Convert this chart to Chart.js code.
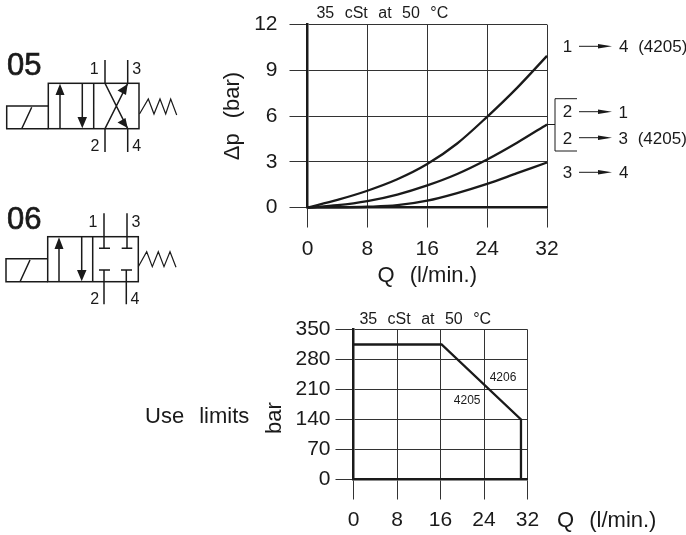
<!DOCTYPE html>
<html>
<head>
<meta charset="utf-8">
<script src="https://cdn.jsdelivr.net/npm/chart.js@4/dist/chart.umd.min.js"></script>
<style>
html,body{margin:0;padding:0;background:#fff;width:686px;height:535px;overflow:hidden}
canvas{position:absolute;display:block}
svg{position:absolute;left:0;top:0;pointer-events:none}
svg text{font-family:"Liberation Sans";fill:#1a1a1a;dominant-baseline:central}
</style>
</head>
<body>
<canvas id="drop" width="466" height="290" style="left:220px;top:0;width:466px;height:290px"></canvas>
<canvas id="limits" width="466" height="235" style="left:220px;top:300px;width:466px;height:235px"></canvas>

<svg width="686" height="535" viewBox="0 0 686 535" fill="none" stroke="#1a1a1a" stroke-width="1.5">
  <!-- 05 symbol -->
  <text x="7" y="64" font-size="31" stroke="#1a1a1a" stroke-width="0.7">05</text>
  <rect x="48.3" y="83.3" width="90.7" height="45.4"/>
  <path d="M48.3 106H6.7V128.7H48.3M21.7 128.7L31.7 107.3M93.7 83.3V128.7M60 128.7V92M82.3 83.3V120M105 60V83.3L127.7 128.7V152M127.7 60V83.3L105 128.7V152"/>
  <path d="M139.5 114L148.3 99L154 114L160 99L165.7 114L170.7 99L176.7 115" stroke-width="1.2"/>
  <g fill="#1a1a1a" stroke="none">
    <path d="M60 83.8L64.5 95H55.5ZM82.3 128.2L77.5 117H87ZM127.7 84L126 95L117.5 90.5ZM127.7 128L117.5 122.5L125.5 118Z"/>
    <text x="94.3" y="68.5" font-size="16" text-anchor="middle">1</text>
    <text x="136.7" y="68.5" font-size="16" text-anchor="middle">3</text>
    <text x="95" y="145" font-size="16" text-anchor="middle">2</text>
    <text x="136.7" y="145" font-size="16" text-anchor="middle">4</text>
  </g>
  <!-- 06 symbol -->
  <text x="7" y="218" font-size="31" stroke="#1a1a1a" stroke-width="0.7">06</text>
  <rect x="47.7" y="236.7" width="90.6" height="45"/>
  <path d="M47.7 258.7H6V281.7H47.7M20 281.7L30 260M92.7 236.7V281.7M59 281.7V245M81.7 236.7V273M104 213.3V248.3M99 248.3H110M127 213.3V248.3M121.7 248.3H132.3M104 304.3V270M99 270H110M126.3 304.3V270M121 270H132"/>
  <path d="M138.3 266.7L146.7 251.7L152.3 266.7L158.3 251.7L164 266.7L170 251.7L176 267.3" stroke-width="1.2"/>
  <g fill="#1a1a1a" stroke="none">
    <path d="M59 237.2L63.5 249H54.5ZM81.7 281.2L77 270H86.5Z"/>
    <text x="93" y="221.7" font-size="16" text-anchor="middle">1</text>
    <text x="136" y="221.7" font-size="16" text-anchor="middle">3</text>
    <text x="94.7" y="298.3" font-size="16" text-anchor="middle">2</text>
    <text x="135" y="298.3" font-size="16" text-anchor="middle">4</text>
  </g>
  <!-- curve legend -->
  <path d="M579 46.3H600M579 111.7H600M579 137.7H600M579 172.3H600" stroke-width="1"/>
  <path d="M577 98.7H555V151H577M547 124.5H555" stroke-width="1"/>
  <g fill="#1a1a1a" stroke="none">
    <path d="M598 44L612 46.3L598 48.6ZM598 109.4L612 111.7L598 114ZM598 135.4L612 137.7L598 140ZM598 170L612 172.3L598 174.6Z"/>
    <g font-size="17" style="word-spacing:5px">
      <text x="567.5" y="46" text-anchor="middle">1</text>
      <text x="619" y="46.5">4 (4205)</text>
      <text x="567.5" y="111.5" text-anchor="middle">2</text>
      <text x="618.5" y="112">1</text>
      <text x="567.5" y="138" text-anchor="middle">2</text>
      <text x="618.5" y="138">3 (4205)</text>
      <text x="567.5" y="172.5" text-anchor="middle">3</text>
      <text x="619" y="172.5">4</text>
    </g>
    <!-- lower chart captions -->
    <text x="145" y="415" font-size="22" style="word-spacing:9px">Use limits</text>
    <text x="273" y="418" font-size="22" text-anchor="middle" transform="rotate(-90 273 418)">bar</text>
    <text x="557" y="519" font-size="22" style="word-spacing:9px">Q (l/min.)</text>
  </g>
</svg>

<script>
// ---- Pressure drop chart ----
const flowTicks = [0, 4, 8, 12, 16, 20, 24, 28, 32];
const drop14 = [0, 0.5, 1.1, 1.85, 2.85, 4.2, 5.95, 7.85, 9.95];
const drop21 = [0, 0.15, 0.42, 0.85, 1.45, 2.2, 3.15, 4.25, 5.45];
const drop34 = [0, 0.01, 0.05, 0.15, 0.45, 0.95, 1.55, 2.25, 2.95];
const dropTitle = "\u0394p (bar)";
const flowTitle = "Q (l/min.)";
const viscosity = "35 cSt at 50 \u00b0C";

// ---- Use limits chart ----
const limitQ = [0, 16.2, 30.8, 30.8];
const limitBar = [315, 315, 140, 0];
const limitNotes = [
  {text: viscosity, q: 13.2, p: 374, size: 16, gap: 6},
  {text: "4206", q: 27.5, p: 237, size: 12, gap: 0},
  {text: "4205", q: 20.9, p: 185, size: 12, gap: 0}
];
const dropNotes = [
  {text: viscosity, q: 10, p: 12.72, size: 16, gap: 6}
];

const ink = "#1a1a1a";
const gridInk = "#333333";
const face = "Liberation Sans";

const spacing = {
  id: "spacing",
  beforeDraw(chart) { chart.ctx.wordSpacing = "9px"; }
};
const notes = {
  id: "notes",
  afterDraw(chart, args, opts) {
    const c = chart.ctx, xs = chart.scales.x, ys = chart.scales.y;
    c.save();
    c.fillStyle = ink;
    c.textAlign = "center";
    c.textBaseline = "middle";
    opts.items.forEach(n => {
      c.wordSpacing = n.gap + "px";
      c.font = n.size + "px '" + face + "'";
      c.fillText(n.text, xs.getPixelForValue(n.q), ys.getPixelForValue(n.p));
    });
    c.restore();
  }
};

function axisOptions(o) {
  return {
    x: {
      type: "linear", min: 0, max: 32,
      afterFit: s => { s.height = o.xHeight; },
      grid: {color: gridInk, lineWidth: 1, tickLength: 20, tickColor: gridInk},
      border: {color: ink, width: 2.5},
      ticks: {stepSize: 8, color: ink, padding: o.xPad, maxRotation: 0, font: {family: face, size: 21}},
      title: o.xTitle ? {display: true, text: o.xTitle, color: ink, padding: 1, font: {family: face, size: 22}} : {display: false}
    },
    y: {
      type: "linear", min: 0, max: o.yMax,
      afterFit: s => { s.width = o.yWidth; },
      grid: {color: gridInk, lineWidth: 1, tickLength: 18, tickColor: gridInk},
      border: {color: ink, width: 2.5},
      ticks: {stepSize: o.yStep, color: ink, padding: o.yPad, font: {family: face, size: 21}},
      title: o.yTitle ? {display: true, text: o.yTitle, color: ink, padding: 0, font: {family: face, size: 22}} : {display: false}
    }
  };
}

function lineSet(label, xs, ys, tension) {
  return {
    label,
    data: xs.map((q, i) => ({x: q, y: ys[i]})),
    borderColor: ink, borderWidth: 2.3, pointRadius: 0, showLine: true,
    tension: tension, cubicInterpolationMode: tension ? "monotone" : "default", clip: false, fill: false
  };
}

new Chart(document.getElementById("drop"), {
  type: "scatter",
  data: {datasets: [
    lineSet("1-4", flowTicks, drop14, 0.4),
    lineSet("2-1", flowTicks, drop21, 0.4),
    lineSet("3-4", flowTicks, drop34, 0.4)
  ]},
  options: {
    responsive: false, animation: false,
    layout: {padding: {left: 0, top: 24, right: 139, bottom: 0}},
    plugins: {legend: {display: false}, tooltip: {enabled: false}, notes: {items: dropNotes}},
    scales: axisOptions({xHeight: 82.5, yWidth: 87.5, yMax: 12, yStep: 3, xPad: 9, yPad: 12, xTitle: flowTitle, yTitle: dropTitle})
  },
  plugins: [spacing, notes]
});

new Chart(document.getElementById("limits"), {
  type: "scatter",
  data: {datasets: [lineSet("limit", limitQ, limitBar, 0)]},
  options: {
    responsive: false, animation: false,
    layout: {padding: {left: 0, top: 29.5, right: 158.5, bottom: 0}},
    plugins: {legend: {display: false}, tooltip: {enabled: false}, notes: {items: limitNotes}},
    scales: axisOptions({xHeight: 55.5, yWidth: 133.5, yMax: 350, yStep: 70, xPad: 8, yPad: 5})
  },
  plugins: [spacing, notes]
});
</script>
</body>
</html>
